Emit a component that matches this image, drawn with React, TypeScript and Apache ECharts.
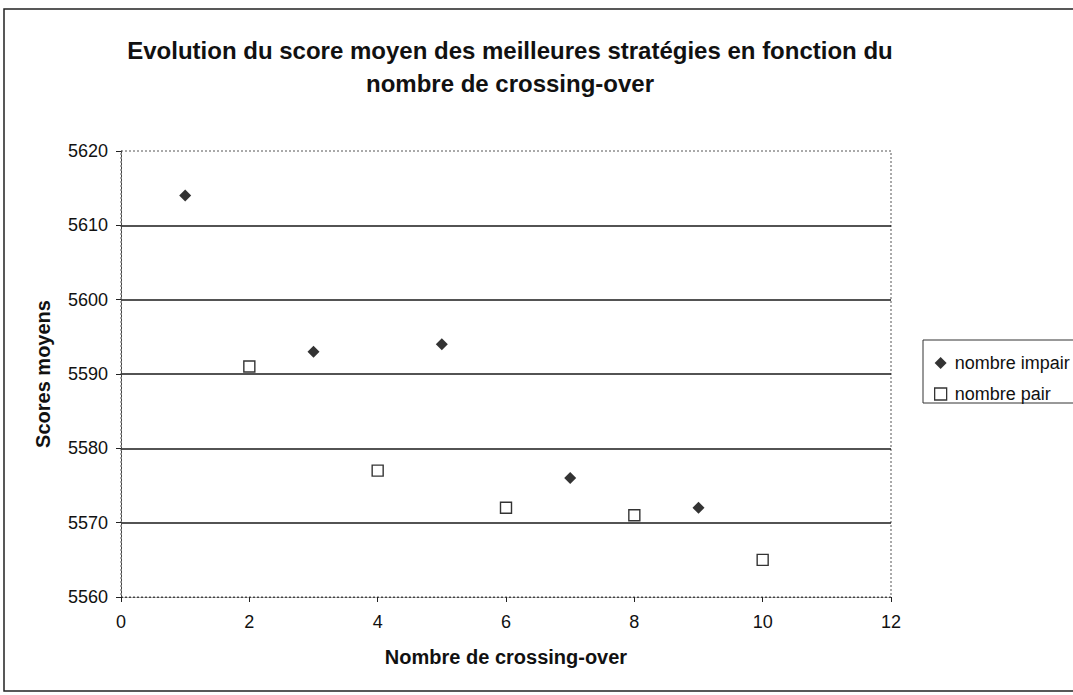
import React, { useEffect, useRef } from "react";
import * as echarts from "echarts";

const titleLines = ["Evolution du score moyen des meilleures stratégies en fonction du", "nombre de crossing-over"];
const xName = "Nombre de crossing-over";
const yName = "Scores moyens";
const oddName = "nombre impair";
const evenName = "nombre pair";
const oddX = [1, 3, 5, 7, 9];
const oddY = [5614, 5593, 5594, 5576, 5572];
const evenX = [2, 4, 6, 8, 10];
const evenY = [5591, 5577, 5572, 5571, 5565];

const GL = 121, GT = 151, GR = 1073 - 891, GB = 695 - 597;
const FONT = "'Liberation Sans', Arial, sans-serif";

export default function App() {
  const ref = useRef<HTMLDivElement>(null);
  useEffect(() => {
    const chart = echarts.init(ref.current!, null, { renderer: "svg" });
    chart.setOption({
      animation: false,
      backgroundColor: "#fff",
      textStyle: { fontFamily: FONT },
      title: {
        text: titleLines.join("\n"),
        left: 505,
        textAlign: "center",
        top: 29,
        textStyle: { fontSize: 24, fontWeight: "bold", color: "#111", lineHeight: 33, fontFamily: FONT },
      },
      grid: { left: GL, top: GT, right: GR, bottom: GB, containLabel: false },
      xAxis: {
        type: "value",
        min: 0,
        max: 12,
        interval: 2,
        name: xName,
        nameLocation: "middle",
        nameGap: 50,
        nameTextStyle: { fontSize: 20, fontWeight: "bold", color: "#111", fontFamily: FONT },
        axisLine: { show: true, lineStyle: { color: "#444", type: [2, 2], width: 1 } },
        axisTick: { show: true, inside: false, length: 5, lineStyle: { color: "#222" } },
        axisLabel: { fontSize: 18, color: "#111", margin: 16, fontFamily: FONT },
        splitLine: { show: false },
      },
      yAxis: {
        type: "value",
        min: 5560,
        max: 5620,
        interval: 10,
        name: yName,
        nameLocation: "middle",
        nameGap: 68,
        nameTextStyle: { fontSize: 20, fontWeight: "bold", color: "#111", fontFamily: FONT },
        axisLine: { show: true, lineStyle: { color: "#444", type: [2, 2], width: 1 } },
        axisTick: { show: true, inside: false, length: 5, lineStyle: { color: "#222" } },
        axisLabel: { fontSize: 18, color: "#111", margin: 13, fontFamily: FONT, formatter: (v: number) => String(v) },
        splitLine: {
          show: true,
          lineStyle: {
            width: 1.6,
            color: ["rgba(0,0,0,0)", "#1a1a1a", "#1a1a1a", "#1a1a1a", "#1a1a1a", "#1a1a1a", "rgba(0,0,0,0)"],
          },
        },
      },
      legend: {
        left: 929,
        top: 349,
        orient: "vertical",
        itemGap: 13,
        itemWidth: 12,
        itemHeight: 12,
        textStyle: { fontSize: 18, color: "#111", fontFamily: FONT, padding: [0, 0, 0, 3] },
        data: [
          { name: oddName, icon: "diamond", itemStyle: { color: "#000" } },
          { name: evenName, icon: "rect", itemStyle: { color: "#fff", borderColor: "#000", borderWidth: 1.3 } },
        ],
      },
      graphic: [
        {
          type: "rect",
          shape: { x: 4, y: 9, width: 1080, height: 682 },
          style: { fill: "none", stroke: "#222", lineWidth: 1.5 },
          silent: true,
        },
        {
          type: "rect",
          shape: { x: GL, y: GT, width: 1073 - GR - GL, height: 695 - GB - GT },
          style: { fill: "none", stroke: "#555", lineWidth: 1, lineDash: [2, 2] },
          silent: true,
        },
        {
          type: "rect",
          shape: { x: 923, y: 340, width: 160, height: 63 },
          style: { fill: "none", stroke: "#333", lineWidth: 1 },
          silent: true,
        },
      ],
      series: [
        {
          name: oddName,
          type: "scatter",
          symbol: "diamond",
          symbolSize: 12,
          itemStyle: { color: "#000" },
          data: oddX.map((x, i) => [x, oddY[i]]),
        },
        {
          name: evenName,
          type: "scatter",
          symbol: "rect",
          symbolSize: 11,
          itemStyle: { color: "#fff", borderColor: "#000", borderWidth: 1.4 },
          data: evenX.map((x, i) => [x, evenY[i]]),
        },
      ],
    });
    return () => chart.dispose();
  }, []);
  return <div ref={ref} style={{ position: "absolute", left: 0, top: 0, width: 1073, height: 695 }} />;
}
